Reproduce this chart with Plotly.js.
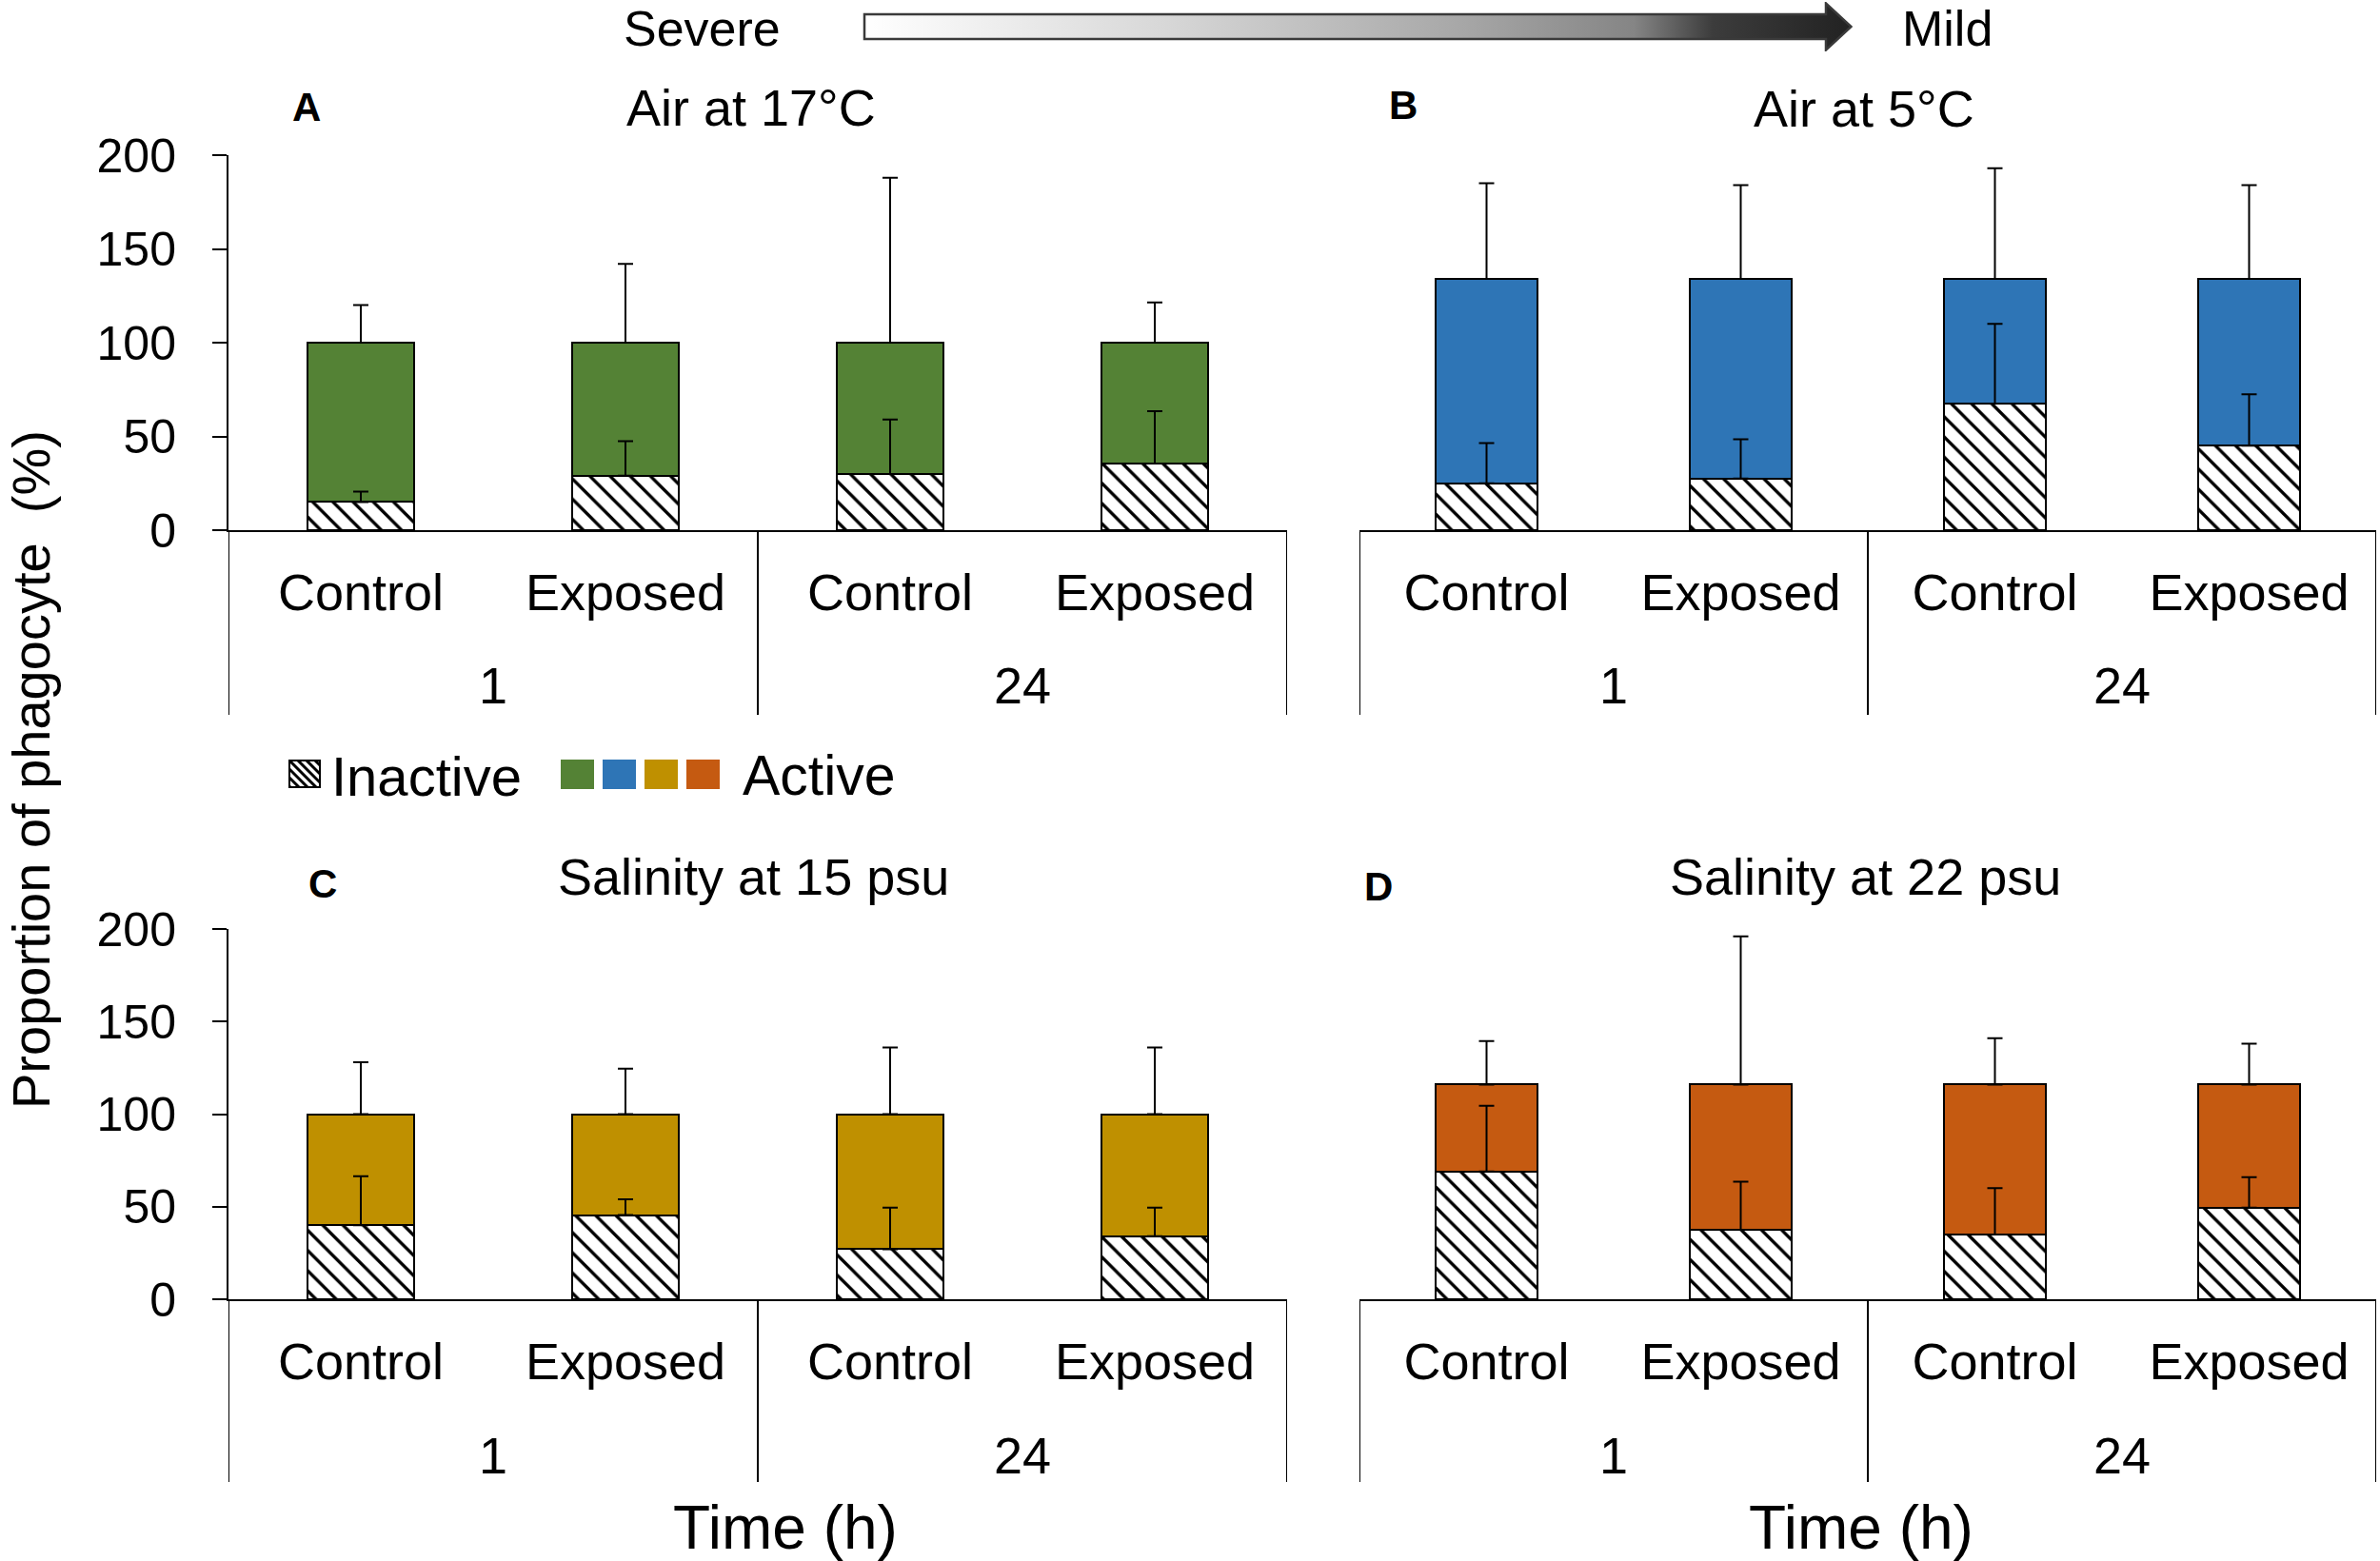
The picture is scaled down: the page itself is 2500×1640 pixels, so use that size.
<!DOCTYPE html>
<html>
<head>
<meta charset="utf-8">
<script src="https://cdn.plot.ly/plotly-3.0.1.min.js"></script>
<style>
  html, body { margin: 0; padding: 0; background: #fff; overflow: hidden; }
  #chart { width: 2500px; height: 1640px; }
</style>
</head>
<body>
<div id="chart"></div>
<script>
// ---------------- DATA ----------------
const times = ['1', '1', '24', '24'];
const treatments = ['Control', 'Exposed', 'Control', 'Exposed'];
const groupLabels = ['1', '24'];
const yTicks = [0, 50, 100, 150, 200];

const panelLetters = ['A', 'B', 'C', 'D'];
const panelTitles = ['Air at 17°C', 'Air at 5°C', 'Salinity at 15 psu', 'Salinity at 22 psu'];
const activeColors = ['#548235', '#2E75B6', '#BF9000', '#C55A11'];

// Panel A: Air at 17°C
const inactiveA    = [15, 29, 30, 35.5];
const activeA      = [85, 71, 70, 64.5];
const errInactiveA = [5.5, 18.5, 29, 28];
const errActiveA   = [20, 42, 88, 21.5];

// Panel B: Air at 5°C
const inactiveB    = [25, 27.5, 67.5, 45];
const activeB      = [109, 106.5, 66.5, 89];
const errInactiveB = [21.5, 21, 42.5, 27.5];
const errActiveB   = [51, 50, 59, 50];

// Panel C: Salinity at 15 psu
const inactiveC    = [40, 45.5, 27, 34];
const activeC      = [60, 54.5, 73, 66];
const errInactiveC = [26.5, 8.5, 22.5, 15.5];
const errActiveC   = [28, 24.5, 36, 36];

// Panel D: Salinity at 22 psu
const inactiveD    = [69, 37.5, 35, 49.5];
const activeD      = [47, 78.5, 81, 66.5];
const errInactiveD = [35.5, 26, 25, 16.5];
const errActiveD   = [23.5, 80, 25, 22];

const noLowerErr = [0, 0, 0, 0];

// ---------------- LAYOUT HELPERS ----------------
const W = 2500, H = 1640;
const px = x => x / W;
const py = y => 1 - y / H;
const FONT = 'Liberation Sans, Arial, Helvetica, sans-serif';

const cats = times.map((t, i) => t + ' h ' + treatments[i]);

const panels = [
  { inactive: inactiveA, active: activeA, errI: errInactiveA, errA: errActiveA,
    xa: 'x', ya: 'y', xl: [240, 1352], yTop: 163, yBot: 557, boxBot: 751, groupY: 720,
    showY: true, title: [789, 113], letter: [322, 113] },
  { inactive: inactiveB, active: activeB, errI: errInactiveB, errA: errActiveB,
    xa: 'x2', ya: 'y2', xl: [1428, 2496], yTop: 163, yBot: 557, boxBot: 751, groupY: 720,
    showY: false, title: [1958, 114], letter: [1474, 111] },
  { inactive: inactiveC, active: activeC, errI: errInactiveC, errA: errActiveC,
    xa: 'x3', ya: 'y3', xl: [240, 1352], yTop: 976, yBot: 1365, boxBot: 1557, groupY: 1529,
    showY: true, title: [791, 921], letter: [339, 929] },
  { inactive: inactiveD, active: activeD, errI: errInactiveD, errA: errActiveD,
    xa: 'x4', ya: 'y4', xl: [1428, 2496], yTop: 976, yBot: 1365, boxBot: 1557, groupY: 1529,
    showY: false, title: [1959, 921], letter: [1448, 932] }
];

const traces = [];
const layout = {
  width: W, height: H,
  margin: { l: 0, r: 0, t: 0, b: 0, pad: 0 },
  paper_bgcolor: '#fff', plot_bgcolor: 'rgba(0,0,0,0)',
  barmode: 'stack', bargap: 0.6,
  showlegend: false,
  font: { family: FONT, color: '#000' },
  shapes: [], annotations: [], images: []
};

panels.forEach((p, k) => {
  const col = activeColors[k];
  const stackTop = p.inactive.map((v, i) => v + p.active[i]);

  traces.push({
    type: 'bar', x: cats, y: p.inactive, xaxis: p.xa, yaxis: p.ya, name: 'Inactive',
    marker: { color: '#fff', line: { color: '#000', width: 2 },
      pattern: { shape: '\\', fgcolor: '#000', bgcolor: '#fff', size: 15, solidity: 0.22 } },
    hoverinfo: 'skip'
  });
  traces.push({
    type: 'bar', x: cats, y: p.active, xaxis: p.xa, yaxis: p.ya, name: 'Active',
    marker: { color: col, line: { color: '#000', width: 2 } },
    hoverinfo: 'skip'
  });
  // error bars drawn above the stacked bars
  traces.push({
    type: 'scatter', mode: 'markers', x: cats, y: p.inactive, xaxis: p.xa, yaxis: p.ya,
    marker: { size: 1, color: 'rgba(0,0,0,0)' },
    error_y: { type: 'data', symmetric: false, array: p.errI, arrayminus: noLowerErr,
      color: '#000', thickness: 2, width: 8 },
    hoverinfo: 'skip'
  });
  traces.push({
    type: 'scatter', mode: 'markers', x: cats, y: stackTop, xaxis: p.xa, yaxis: p.ya,
    marker: { size: 1, color: 'rgba(0,0,0,0)' },
    error_y: { type: 'data', symmetric: false, array: p.errA, arrayminus: noLowerErr,
      color: '#000', thickness: 2, width: 8 },
    hoverinfo: 'skip'
  });

  const xName = p.xa === 'x' ? 'xaxis' : 'xaxis' + p.xa.slice(1);
  const yName = p.ya === 'y' ? 'yaxis' : 'yaxis' + p.ya.slice(1);

  layout[xName] = {
    domain: [px(p.xl[0]), px(p.xl[1])], anchor: p.ya,
    type: 'category', categoryorder: 'array', categoryarray: cats,
    tickvals: cats, ticktext: treatments, range: [-0.5, 3.5],
    showline: true, linecolor: '#000', linewidth: 2,
    ticks: '', showgrid: false, zeroline: false,
    tickfont: { family: FONT, size: 54, color: '#000' },
    ticklabelstandoff: 17, fixedrange: true
  };
  if (p.showY) {
    layout[yName] = {
      domain: [py(p.yBot), py(p.yTop)], anchor: p.xa, range: [0, 200],
      tickvals: yTicks, ticks: 'outside', ticklen: 15, tickwidth: 2, tickcolor: '#000',
      showline: true, linecolor: '#000', linewidth: 2,
      showgrid: false, zeroline: false,
      tickfont: { family: FONT, size: 50, color: '#000' },
      ticklabelstandoff: 28, fixedrange: true
    };
  } else {
    layout[yName] = {
      domain: [py(p.yBot), py(p.yTop)], anchor: p.xa, range: [0, 200],
      visible: false, showgrid: false, zeroline: false, fixedrange: true
    };
  }

  // category box dividers
  [-0.5, 1.5, 3.5].forEach(xv => {
    layout.shapes.push({
      type: 'line', xref: p.xa, yref: 'paper', x0: xv, x1: xv,
      y0: py(p.yBot), y1: py(p.boxBot), line: { color: '#000', width: 2 }
    });
  });
  // group labels (time)
  groupLabels.forEach((g, gi) => {
    layout.annotations.push({
      xref: p.xa, yref: 'paper', x: gi * 2 + 0.5, y: py(p.groupY),
      text: g, showarrow: false, xanchor: 'center', yanchor: 'middle',
      font: { family: FONT, size: 54, color: '#000' }
    });
  });
  // panel title + letter
  layout.annotations.push({
    xref: 'paper', yref: 'paper', x: px(p.title[0]), y: py(p.title[1]),
    text: panelTitles[k], showarrow: false, xanchor: 'center', yanchor: 'middle',
    font: { family: FONT, size: 54, color: '#000' }
  });
  layout.annotations.push({
    xref: 'paper', yref: 'paper', x: px(p.letter[0]), y: py(p.letter[1]),
    text: '<b>' + panelLetters[k] + '</b>', showarrow: false, xanchor: 'center', yanchor: 'middle',
    font: { family: FONT, size: 42, color: '#000' }
  });
});

// axis titles
layout.annotations.push({
  xref: 'paper', yref: 'paper', x: px(32), y: py(809), textangle: -90,
  text: 'Proportion of phagocyte  (%)', showarrow: false, xanchor: 'center', yanchor: 'middle',
  font: { family: FONT, size: 56, color: '#000' }
});
[[825, 1605], [1955, 1605]].forEach(pos => {
  layout.annotations.push({
    xref: 'paper', yref: 'paper', x: px(pos[0]), y: py(pos[1]),
    text: 'Time (h)', showarrow: false, xanchor: 'center', yanchor: 'middle',
    font: { family: FONT, size: 64, color: '#000' }
  });
});

// severity gradient arrow
layout.annotations.push({
  xref: 'paper', yref: 'paper', x: px(654), y: py(0), text: 'Severe', showarrow: false,
  xanchor: 'left', yanchor: 'top', borderpad: 0, font: { family: FONT, size: 52, color: '#000' }
});
layout.annotations.push({
  xref: 'paper', yref: 'paper', x: px(1997), y: py(0), text: 'Mild', showarrow: false,
  xanchor: 'left', yanchor: 'top', borderpad: 0, font: { family: FONT, size: 52, color: '#000' }
});
const arrowSvg =
  "<svg xmlns='http://www.w3.org/2000/svg' width='1040' height='52' viewBox='0 0 1040 52'>" +
  "<defs><linearGradient id='g' x1='0' y1='0' x2='1' y2='0'>" +
  "<stop offset='0' stop-color='#ffffff'/><stop offset='0.3' stop-color='#d8d8d8'/>" +
  "<stop offset='0.6' stop-color='#a8a8a8'/><stop offset='0.78' stop-color='#858585'/>" +
  "<stop offset='0.86' stop-color='#3c3c3c'/><stop offset='1' stop-color='#222222'/>" +
  "</linearGradient></defs>" +
  "<path d='M2 13 H1012 V1.5 L1038.5 26 L1012 50.5 V39 H2 Z' fill='url(#g)' stroke='#3a3a3a' stroke-width='2.5' stroke-linejoin='miter'/>" +
  "</svg>";
layout.images.push({
  source: 'data:image/svg+xml;charset=utf-8,' + encodeURIComponent(arrowSvg),
  xref: 'paper', yref: 'paper', x: px(906), y: py(2), sizex: 1040 / W, sizey: 52 / H,
  xanchor: 'left', yanchor: 'top', sizing: 'stretch', layer: 'above'
});

// custom legend
const hatchSvg =
  "<svg xmlns='http://www.w3.org/2000/svg' width='34' height='30' viewBox='0 0 34 30'>" +
  "<rect width='34' height='30' fill='#fff'/>" +
  "<path d='M-27 0 L3 30 M-18 0 L12 30 M-9 0 L21 30 M0 0 L30 30 M9 0 L39 30 M18 0 L48 30 M27 0 L57 30' stroke='#000' stroke-width='3'/>" +
  "<rect x='1' y='1' width='32' height='28' fill='none' stroke='#000' stroke-width='2'/></svg>";
layout.images.push({
  source: 'data:image/svg+xml;charset=utf-8,' + encodeURIComponent(hatchSvg),
  xref: 'paper', yref: 'paper', x: px(303), y: py(798), sizex: 34 / W, sizey: 30 / H,
  xanchor: 'left', yanchor: 'top', sizing: 'stretch', layer: 'above'
});
layout.annotations.push({
  xref: 'paper', yref: 'paper', x: px(346), y: py(815), text: 'Inactive', showarrow: false,
  xanchor: 'left', yanchor: 'middle', font: { family: FONT, size: 58, color: '#000' }
});
activeColors.forEach((c, i) => {
  const x0 = 589 + i * 44;
  layout.shapes.push({
    type: 'rect', xref: 'paper', yref: 'paper',
    x0: px(x0), x1: px(x0 + 35), y0: py(829), y1: py(798),
    fillcolor: c, line: { width: 0 }
  });
});
layout.annotations.push({
  xref: 'paper', yref: 'paper', x: px(778), y: py(815), text: 'Active', showarrow: false,
  xanchor: 'left', yanchor: 'middle', font: { family: FONT, size: 59, color: '#000' }
});

Plotly.newPlot('chart', traces, layout, { displayModeBar: false, responsive: false, staticPlot: true });
</script>
</body>
</html>
